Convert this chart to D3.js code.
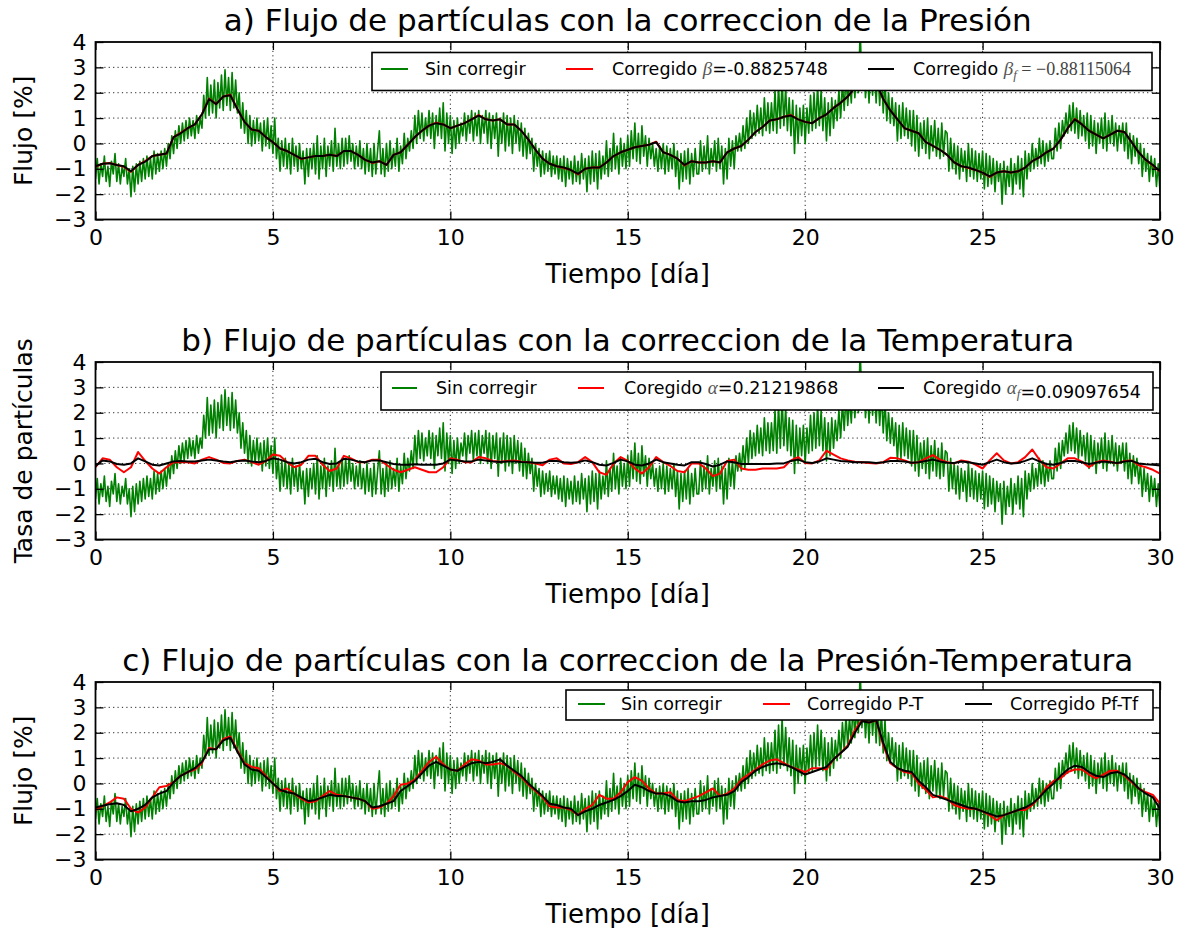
<!DOCTYPE html>
<html>
<head>
<meta charset="utf-8">
<script src="https://cdn.jsdelivr.net/npm/d3@7"></script>
<style>
  body { margin: 0; background: #fff; }
  svg text { font-family: "DejaVu Sans", sans-serif; fill: #000; }
</style>
</head>
<body>
<svg id="chart" width="1187" height="928"></svg>
<script>
// Uncorrected particle flux, sampled every 0.05 day (0 .. 30), one row per day
const sinCorregir = [
  -1.4, -0.6, -1.6, -0.8, -1.3, -0.5, -1.5, -0.9, -1.7, -0.7, -1.2, -0.4, -1.5, -0.8, -1.6, -0.9, -1.3, -0.6, -1.6, -1.0,
  -2.1, -0.9, -1.9, -0.8, -1.6, -0.7, -1.5, -0.6, -1.4, -0.5, -1.3, -0.6, -1.4, -0.3, -1.2, -0.4, -1.1, -0.3, -1.0, -0.2,
  -0.9, 0.0, -0.6, 0.3, -0.4, 0.5, -0.2, 0.7, 0.0, 0.8, 0.1, 0.9, 0.2, 1.0, 0.3, 0.9, 0.2, 1.1, 0.4, 1.0,
  0.6, 1.9, 1.0, 2.6, 1.1, 2.3, 1.2, 2.5, 1.0, 2.4, 1.4, 2.7, 1.3, 2.9, 1.5, 2.6, 1.3, 2.8, 1.4, 2.5,
  1.2, 2.0, 0.6, 1.6, 0.4, 1.3, 0.0, 1.1, -0.1, 0.9, 0.0, 1.0, 0.1, 0.8, -0.3, 0.9, -0.1, 1.0, -0.2, 0.7,
  -0.4, 1.0, -0.6, 0.2, -1.1, 0.1, -0.9, 0.2, -1.0, 0.0, -1.2, 0.2, -0.9, -0.1, -1.1, 0.0, -1.0, -0.3, -1.6, -0.2,
  -1.3, -0.2, -1.0, 0.0, -1.2, 0.3, -1.4, -0.1, -1.0, 0.2, -1.3, -0.1, -0.9, 0.1, -1.1, 0.6, -0.9, 0.0, -1.0, 0.2,
  -0.9, 0.2, -0.8, 0.3, -0.7, 0.0, -1.0, -0.1, -0.9, 0.1, -1.0, -0.2, -1.2, 0.0, -1.1, -0.2, -1.3, 0.0, -1.2, -0.3,
  0.5, -1.2, -0.2, -1.3, 0.0, -1.1, 0.1, -1.0, -0.2, -0.9, 0.2, -1.1, -0.1, -0.8, 0.4, -0.6, 0.2, -0.3, 0.5, -0.2,
  1.1, 0.0, 1.3, 0.2, 1.2, 0.1, 1.0, 0.3, 1.3, 0.2, 1.2, -0.2, 1.1, 0.3, 1.4, 0.2, 1.6, -0.3, 1.2, 0.0,
  1.1, -0.4, 0.9, -0.2, 1.0, 0.0, 0.8, 0.3, 1.2, 0.1, 1.1, 0.4, 1.3, 0.1, 1.2, 0.3, 1.3, 0.0, 1.1, 0.4,
  1.3, 0.0, 1.2, -0.2, 1.1, 0.2, 1.2, -0.5, 1.0, 0.0, 1.2, -0.3, 1.1, -0.1, 1.0, -0.4, 1.1, 0.0, 0.9, -0.3,
  0.8, -0.5, 0.6, -0.6, 0.4, -0.4, 0.2, -1.1, 0.0, -0.9, -0.2, -1.3, -0.3, -1.2, -0.4, -1.1, -0.3, -1.3, -0.5, -1.2,
  -0.5, -1.4, -0.6, -1.5, -0.5, -1.7, -0.6, -1.4, -0.7, -1.6, -0.5, -1.5, -0.7, -1.6, -0.4, -1.4, -0.6, -1.9, -0.5, -1.6,
  -0.3, -1.5, -0.4, -1.8, -0.3, -1.4, -0.5, -1.2, 0.1, -1.3, -0.2, -1.1, 0.4, -1.0, -0.1, -1.2, 0.2, -0.9, 0.0, -1.0,
  0.3, -0.9, 0.5, -0.6, 0.8, -0.7, 0.4, -0.8, 0.7, -0.5, 0.3, -0.9, 0.2, -0.6, 0.0, -0.9, -0.2, -1.1, -0.1, -1.0,
  0.0, -1.2, -0.1, -1.1, -0.2, -1.0, 0.0, -1.3, -0.3, -1.8, -0.4, -1.5, -0.3, -1.4, -0.2, -1.6, -0.4, -1.3, -0.2, -1.2,
  -1.2, 0.1, -1.1, -0.1, -1.0, 0.3, -1.2, -0.2, -0.9, 0.1, -1.1, 0.2, -1.0, -0.1, -1.6, -0.2, -1.4, 0.2, -0.9, 0.1,
  -1.0, 0.3, -0.3, 0.4, -0.3, 0.7, -0.2, 1.0, 0.0, 1.3, 0.2, 1.2, 0.3, 1.5, 0.4, 1.4, 0.3, 1.8, 0.5, 1.6,
  0.4, 1.6, 0.5, 2.1, 0.4, 2.3, 0.6, 2.6, 0.7, 2.2, 0.5, 1.8, 0.3, 1.7, -0.4, 1.5, 0.0, 1.4, 0.3, 1.5,
  0.0, 1.4, 0.4, 1.9, 0.5, 2.0, 0.6, 2.3, 0.7, 2.1, 0.5, 1.8, 0.1, 1.6, 0.3, 1.8, 0.6, 1.7, 0.9, 2.1,
  1.0, 2.4, 1.3, 2.7, 1.5, 2.6, 1.6, 3.2, 1.8, 3.0, 2.0, 4.5, 2.2, 3.3, 1.8, 3.0, 1.6, 3.3, 1.9, 3.1,
  1.6, 3.0, 1.5, 2.8, 1.2, 2.5, 0.9, 2.0, 0.8, 1.8, 0.7, 1.6, 0.1, 1.5, 0.2, 1.6, 0.3, 1.4, 0.2, 1.3,
  -0.1, 1.3, -0.3, 1.1, -0.5, 0.8, -0.2, 0.9, -0.4, 1.0, -0.6, 0.7, -0.3, 0.9, -0.5, 0.6, -0.6, 0.8, -0.5, 0.5,
  0.4, -1.1, 0.2, -1.0, 0.0, -1.2, -0.1, -1.4, -0.2, -1.1, -0.3, -1.5, 0.0, -1.3, -0.2, -1.4, -0.3, -1.5, -0.4, -1.4,
  -0.3, -1.8, -0.4, -1.7, -0.5, -1.6, -0.6, -1.9, -0.7, -1.5, -0.8, -2.4, -0.7, -2.0, -0.9, -1.7, -0.6, -2.0, -0.8, -1.6,
  -0.5, -1.8, -0.6, -2.1, -0.3, -1.4, -0.4, -1.1, 0.0, -1.0, -0.2, -0.9, 0.2, -0.8, 0.1, -0.9, 0.0, -0.7, 0.1, -0.6,
  -0.6, 0.6, -0.3, 0.8, -0.2, 0.9, 0.3, 1.2, 0.4, 1.5, 0.5, 1.6, 0.4, 1.4, 0.2, 1.3, 0.3, 1.1, 0.1, 1.2,
  -0.2, 1.1, -0.1, 0.9, -0.4, 0.8, 0.0, 1.0, -0.2, 1.2, -0.3, 0.9, 0.0, 1.1, -0.1, 0.8, -0.3, 0.7, 0.0, 0.8,
  -0.3, 0.8, -0.6, 0.4, -0.8, 0.3, -0.5, 0.2, -0.8, 0.0, -1.3, -0.2, -1.1, -0.4, -1.5, -0.5, -1.3, -0.6, -1.7, -0.8,
  -1.9
];

// Corrected series, sampled every 0.2 day (0 .. 30)
const corregidoBetaF = [
  -0.9, -0.8, -0.78, -0.85, -0.9, -1.1, -0.85, -0.72, -0.5, -0.45,
  -0.4, 0.25, 0.4, 0.6, 0.75, 1.15, 1.75, 1.55, 1.85, 1.9,
  1.35, 0.85, 0.55, 0.5, 0.25, 0.05, -0.2, -0.3, -0.45, -0.6,
  -0.55, -0.5, -0.5, -0.45, -0.5, -0.3, -0.3, -0.45, -0.65, -0.75,
  -0.7, -0.85, -0.45, -0.35, -0.05, 0.25, 0.5, 0.7, 0.8, 0.75,
  0.6, 0.7, 0.8, 0.95, 1.1, 0.95, 0.9, 0.95, 0.75, 0.75,
  0.5, 0.15, -0.25, -0.6, -0.8, -0.9, -0.95, -1.05, -1.2, -1.0,
  -0.95, -0.95, -0.75, -0.5, -0.35, -0.25, -0.15, -0.1, -0.05, 0.05,
  -0.35, -0.45, -0.6, -0.85, -0.7, -0.75, -0.75, -0.7, -0.75, -0.35,
  -0.2, -0.1, 0.15, 0.45, 0.65, 0.9, 0.95, 1.05, 1.1, 0.95,
  0.85, 0.8, 1.0, 1.15, 1.4, 1.6, 1.85, 2.2, 2.45, 2.55,
  2.4, 1.75, 1.3, 0.95, 0.6, 0.5, 0.4, 0.05, -0.1, -0.25,
  -0.45, -0.75, -0.9, -0.95, -1.05, -1.15, -1.3, -1.15, -1.1, -1.15,
  -1.1, -0.95, -0.7, -0.55, -0.35, -0.2, 0.15, 0.6, 0.95, 0.75,
  0.5, 0.35, 0.2, 0.35, 0.5, 0.45, 0.05, -0.35, -0.65, -0.85,
  -1.1
];
const corregidoBeta = [
  -0.92, -0.8, -0.77, -0.85, -0.92, -1.12, -0.85, -0.7, -0.5, -0.45,
  -0.4, 0.25, 0.42, 0.6, 0.75, 1.15, 1.77, 1.55, 1.85, 1.92,
  1.35, 0.85, 0.55, 0.5, 0.25, 0.05, -0.2, -0.3, -0.45, -0.62,
  -0.55, -0.5, -0.5, -0.45, -0.5, -0.3, -0.3, -0.45, -0.65, -0.77,
  -0.7, -0.85, -0.45, -0.35, -0.05, 0.25, 0.5, 0.7, 0.82, 0.75,
  0.6, 0.7, 0.8, 0.95, 1.12, 0.95, 0.9, 0.95, 0.75, 0.75,
  0.5, 0.15, -0.25, -0.6, -0.8, -0.9, -0.97, -1.05, -1.22, -1.0,
  -0.95, -0.95, -0.75, -0.5, -0.35, -0.25, -0.15, -0.1, -0.05, 0.07,
  -0.35, -0.45, -0.6, -0.87, -0.7, -0.75, -0.75, -0.7, -0.75, -0.35,
  -0.2, -0.1, 0.15, 0.45, 0.65, 0.9, 0.95, 1.05, 1.12, 0.95,
  0.85, 0.8, 1.0, 1.15, 1.4, 1.6, 1.85, 2.2, 2.47, 2.57,
  2.4, 1.75, 1.3, 0.95, 0.6, 0.5, 0.4, 0.05, -0.1, -0.25,
  -0.45, -0.75, -0.9, -0.97, -1.05, -1.15, -1.32, -1.15, -1.1, -1.15,
  -1.1, -0.95, -0.7, -0.55, -0.35, -0.2, 0.15, 0.6, 0.97, 0.75,
  0.5, 0.35, 0.2, 0.35, 0.5, 0.45, 0.05, -0.35, -0.65, -0.87,
  -1.12
];
const coregidoAlpha = [
  -0.15, 0.2, 0.15, -0.15, -0.35, -0.15, 0.45, 0.1, -0.2, -0.4,
  -0.15, 0.05, 0.05, 0.05, 0.0, 0.15, 0.25, 0.15, 0.02, 0.0,
  0.1, 0.15, 0.05, -0.05, 0.1, 0.35, 0.3, 0.05, -0.15, -0.05,
  0.3, 0.3, -0.05, -0.3, -0.2, 0.3, 0.2, 0.05, 0.05, 0.15,
  0.15, -0.05, -0.25, -0.35, -0.25, -0.15, -0.25, -0.35, -0.35, -0.15,
  0.2, 0.15, 0.05, 0.05, 0.25, 0.2, 0.1, 0.07, 0.1, 0.12,
  0.07, 0.05, 0.0, -0.07, 0.15, 0.2, 0.0, -0.02, 0.05, 0.25,
  0.05, -0.35, -0.45, 0.0, 0.25, 0.1, -0.2, -0.4, -0.15, 0.25,
  0.05, -0.1, -0.3, -0.35, 0.0, 0.0, -0.2, -0.5, -0.4, 0.1,
  0.15, -0.2, -0.25, -0.25, -0.2, -0.2, -0.2, -0.15, 0.12, 0.25,
  0.02, 0.0, 0.12, 0.5, 0.35, 0.2, 0.12, 0.07, 0.05, 0.02,
  0.0, 0.05, 0.22, 0.2, 0.12, 0.02, 0.05, 0.2, 0.33, 0.15,
  0.05, 0.0, 0.12, 0.07, -0.05, -0.2, 0.12, 0.4, 0.12, 0.0,
  0.05, 0.25, 0.55, 0.15, -0.15, -0.2, 0.0, 0.2, 0.2, 0.07,
  -0.15, 0.05, 0.12, 0.07, 0.0, 0.1, 0.12, -0.07, -0.15, -0.25,
  -0.4
];
const coregidoAlphaF = [
  -0.1, 0.12, 0.08, -0.02, -0.05, 0.0, 0.2, 0.08, -0.05, -0.08,
  0.0, 0.08, 0.1, 0.08, 0.08, 0.12, 0.15, 0.12, 0.08, 0.05,
  0.1, 0.12, 0.08, 0.05, 0.1, 0.2, 0.15, 0.05, 0.0, 0.05,
  0.15, 0.18, 0.05, -0.02, 0.0, 0.18, 0.15, 0.08, 0.05, 0.12,
  0.12, 0.05, -0.02, -0.05, -0.05, -0.03, -0.05, -0.05, -0.05, 0.0,
  0.15, 0.12, 0.08, 0.08, 0.15, 0.12, 0.08, 0.06, 0.08, 0.08,
  0.06, 0.05, 0.03, 0.03, 0.1, 0.1, 0.05, 0.03, 0.05, 0.12,
  0.05, -0.05, -0.08, 0.02, 0.15, 0.08, -0.05, -0.08, 0.0, 0.15,
  0.05, 0.0, -0.05, -0.08, 0.05, 0.05, -0.02, -0.12, -0.05, 0.08,
  0.05, -0.02, -0.02, -0.02, -0.02, -0.02, 0.0, 0.0, 0.1, 0.15,
  0.05, 0.02, 0.08, 0.2, 0.15, 0.1, 0.08, 0.05, 0.05, 0.05,
  0.02, 0.05, 0.1, 0.1, 0.08, 0.03, 0.05, 0.1, 0.15, 0.08,
  0.03, 0.02, 0.08, 0.05, 0.0, -0.05, 0.05, 0.15, 0.05, 0.0,
  0.02, 0.1, 0.2, 0.08, -0.02, -0.05, 0.02, 0.1, 0.1, 0.05,
  -0.02, 0.03, 0.08, 0.05, 0.02, 0.08, 0.1, 0.0, -0.03, -0.05,
  -0.08
];
const corregidoPT = [
  -1.05, -0.9, -0.75, -0.55, -0.6, -1.0, -1.15, -0.95, -0.55, -0.15,
  -0.1, 0.05, 0.3, 0.45, 0.55, 0.8, 1.4, 1.35, 1.75, 1.85,
  1.3, 0.8, 0.65, 0.6, 0.3, 0.0, -0.3, -0.2, -0.4, -0.6,
  -0.75, -0.7, -0.5, -0.3, -0.45, -0.5, -0.55, -0.6, -0.7, -1.0,
  -0.95, -0.8, -0.5, -0.05, 0.0, 0.15, 0.5, 0.85, 1.05, 0.75,
  0.55, 0.5, 0.75, 0.95, 0.9, 0.75, 0.75, 0.8, 0.7, 0.45,
  0.25, -0.05, -0.3, -0.55, -0.9, -0.95, -0.95, -1.05, -1.25, -1.0,
  -0.85, -0.45, -0.6, -0.6, -0.35, 0.05, 0.25, 0.1, -0.2, -0.4,
  -0.4, -0.35, -0.65, -0.7, -0.6, -0.5, -0.35, -0.2, -0.5, -0.4,
  -0.2, 0.15, 0.35, 0.55, 0.75, 0.9, 0.95, 0.8, 0.65, 0.55,
  0.45, 0.6, 0.6, 0.55, 0.95, 1.2, 1.5, 2.1, 2.5, 2.4,
  2.5, 1.5, 0.8, 0.6, 0.45, 0.4, 0.0, -0.25, -0.55, -0.5,
  -0.6, -0.85, -0.95, -1.0, -1.0, -1.1, -1.25, -1.45, -1.25, -1.15,
  -1.05, -1.05, -0.85, -0.55, -0.15, 0.1, 0.2, 0.45, 0.55, 0.55,
  0.35, 0.2, 0.35, 0.5, 0.5, 0.3, 0.05, -0.2, -0.35, -0.45,
  -0.8
];
const corregidoPfTf = [
  -0.95, -0.88, -0.82, -0.78, -0.85, -1.1, -1.0, -0.85, -0.55, -0.4,
  -0.3, 0.05, 0.3, 0.45, 0.6, 0.85, 1.35, 1.35, 1.7, 1.8,
  1.25, 0.75, 0.55, 0.5, 0.25, 0.0, -0.25, -0.35, -0.4, -0.55,
  -0.7, -0.65, -0.55, -0.45, -0.5, -0.5, -0.55, -0.6, -0.7, -0.95,
  -0.9, -0.8, -0.7, -0.3, -0.1, 0.1, 0.4, 0.7, 0.85, 0.7,
  0.55, 0.5, 0.65, 0.8, 0.85, 0.8, 0.85, 0.95, 0.7, 0.5,
  0.3, 0.0, -0.25, -0.5, -0.8, -0.85, -0.95, -1.0, -1.25, -1.1,
  -1.0, -0.85, -0.75, -0.65, -0.5, -0.3, -0.05, -0.15, -0.3, -0.4,
  -0.4, -0.5, -0.7, -0.75, -0.7, -0.7, -0.65, -0.55, -0.5, -0.45,
  -0.3, 0.05, 0.25, 0.5, 0.65, 0.75, 0.8, 0.75, 0.65, 0.5,
  0.35, 0.45, 0.55, 0.65, 0.95, 1.2, 1.45, 2.0, 2.45, 2.4,
  2.5, 1.6, 0.85, 0.6, 0.5, 0.45, 0.1, -0.15, -0.45, -0.55,
  -0.65, -0.75, -0.85, -0.95, -1.0, -1.1, -1.2, -1.3, -1.25, -1.15,
  -1.05, -0.95, -0.8, -0.55, -0.25, 0.0, 0.3, 0.55, 0.7, 0.65,
  0.45, 0.3, 0.25, 0.4, 0.45, 0.35, 0.1, -0.2, -0.4, -0.55,
  -1.0
];

const xTicks = [0, 5, 10, 15, 20, 25, 30];
const yTicks = [-3, -2, -1, 0, 1, 2, 3, 4];

const titles = [
  "a) Flujo de partículas con la correccion de la Presión",
  "b) Flujo de partículas con la correccion de la Temperatura",
  "c) Flujo de partículas con la correccion de la Presión-Temperatura"
];
const yLabels = ["Flujo [%]", "Tasa de partículas", "Flujo [%]"];
const xLabel = "Tiempo [día]";

const GREEN = "#008000", RED = "#ff0000", BLACK = "#000000";

// time axes of the two sampling rates
const tFine = sinCorregir.map((_, i) => i / 20);
const tCoarse = corregidoBetaF.map((_, i) => i / 5);

const svg = d3.select("#chart");
const plotLeft = 95.5, plotRight = 1160, plotH = 177.5;
const panelTops = [42, 362, 682];
const x = d3.scaleLinear().domain([0, 30]).range([plotLeft, plotRight]);
const fmt = d => (d < 0 ? "\u2212" + (-d) : String(d));

// legend entries: each label is a list of [text, style] runs
const legends = [
  {
    box: [372, 52.5, 1152, 90.5], lineY: 69, baseY: 75,
    items: [
      { color: GREEN, lx: [381, 408], tx: 425, runs: [["Sin corregir", "sans"]] },
      { color: RED, lx: [566, 593], tx: 612, runs: [["Corregido ", "sans"], ["β", "mathit"], ["=-0.8825748", "sans"]] },
      { color: BLACK, lx: [868, 894], tx: 913, runs: [["Corregido ", "sans"], ["β", "mathit"], ["f", "sub"], [" = −0.88115064", "math"]] }
    ]
  },
  {
    box: [381, 372, 1153, 410], lineY: 388, baseY: 394,
    items: [
      { color: GREEN, lx: [392, 417], tx: 436, runs: [["Sin corregir", "sans"]] },
      { color: RED, lx: [578, 604], tx: 624, runs: [["Coregido ", "sans"], ["α", "mathit"], ["=0.21219868", "sans"]] },
      { color: BLACK, lx: [878, 904], tx: 923, runs: [["Coregido ", "sans"], ["α", "mathit"], ["f", "sub"], ["=0.09097654", "sans"]] }
    ]
  },
  {
    box: [566, 690, 1153, 720], lineY: 704, baseY: 710,
    items: [
      { color: GREEN, lx: [578, 605], tx: 621, runs: [["Sin corregir", "sans"]] },
      { color: RED, lx: [763, 790], tx: 807, runs: [["Corregido P-T", "sans"]] },
      { color: BLACK, lx: [965, 992], tx: 1010, runs: [["Corregido Pf-Tf", "sans"]] }
    ]
  }
];

const panels = [
  { series: [
      { t: tFine, v: sinCorregir, color: GREEN, w: 1.6 },
      { t: tCoarse, v: corregidoBeta, color: RED, w: 2 },
      { t: tCoarse, v: corregidoBetaF, color: BLACK, w: 2 } ] },
  { series: [
      { t: tFine, v: sinCorregir, color: GREEN, w: 1.6 },
      { t: tCoarse, v: coregidoAlpha, color: RED, w: 2 },
      { t: tCoarse, v: coregidoAlphaF, color: BLACK, w: 2 } ] },
  { series: [
      { t: tFine, v: sinCorregir, color: GREEN, w: 1.6 },
      { t: tCoarse, v: corregidoPT, color: RED, w: 2 },
      { t: tCoarse, v: corregidoPfTf, color: BLACK, w: 2 } ] }
];

panels.forEach((p, k) => {
  const top = panelTops[k];
  const bottom = top + plotH;
  const y = d3.scaleLinear().domain([-3, 4]).range([bottom, top]);
  const g = svg.append("g");

  g.append("clipPath").attr("id", "clip" + k)
    .append("rect").attr("x", plotLeft).attr("y", top)
    .attr("width", plotRight - plotLeft).attr("height", plotH);

  // dotted grid
  const grid = g.append("g").attr("stroke", "#000").attr("stroke-width", 1)
    .attr("stroke-dasharray", "1.2,3.2").attr("opacity", 0.85);
  grid.selectAll("line.v").data(xTicks.slice(1, -1)).join("line")
    .attr("x1", d => x(d)).attr("x2", d => x(d)).attr("y1", top).attr("y2", bottom);
  grid.selectAll("line.h").data(yTicks.slice(1, -1)).join("line")
    .attr("x1", plotLeft).attr("x2", plotRight).attr("y1", d => y(d)).attr("y2", d => y(d));

  // data lines
  const lines = g.append("g").attr("clip-path", `url(#clip${k})`);
  p.series.forEach(s => {
    const line = d3.line().x((d, i) => x(s.t[i])).y(d => y(d));
    lines.append("path").datum(s.v).attr("d", line)
      .attr("fill", "none").attr("stroke", s.color).attr("stroke-width", s.w)
      .attr("stroke-linejoin", "round");
  });

  // axes with inward ticks on all four sides
  const styleAxis = sel => {
    sel.select(".domain").remove();
    sel.selectAll(".tick line").attr("stroke", "#000").attr("stroke-width", 1.3);
    sel.selectAll(".tick text").style("font-family", '"DejaVu Sans", sans-serif')
      .style("font-size", "22px").attr("fill", "#000");
  };
  g.append("g").attr("transform", `translate(0,${bottom})`)
    .call(d3.axisBottom(x).tickValues(xTicks).tickSize(-8).tickPadding(10).tickFormat(fmt))
    .call(styleAxis);
  g.append("g").attr("transform", `translate(0,${top})`)
    .call(d3.axisTop(x).tickValues(xTicks).tickSize(-8).tickFormat(""))
    .call(styleAxis);
  g.append("g").attr("transform", `translate(${plotLeft},0)`)
    .call(d3.axisLeft(y).tickValues(yTicks).tickSize(-8).tickPadding(9).tickFormat(fmt))
    .call(styleAxis);
  g.append("g").attr("transform", `translate(${plotRight},0)`)
    .call(d3.axisRight(y).tickValues(yTicks).tickSize(-8).tickFormat(""))
    .call(styleAxis);

  // frame
  g.append("rect").attr("x", plotLeft).attr("y", top)
    .attr("width", plotRight - plotLeft).attr("height", plotH)
    .attr("fill", "none").attr("stroke", "#000").attr("stroke-width", 1.8);

  // title and axis labels
  g.append("text").attr("x", (plotLeft + plotRight) / 2).attr("y", top - 11)
    .attr("text-anchor", "middle").style("font-size", "31px").text(titles[k]);
  g.append("text").attr("x", (plotLeft + plotRight) / 2).attr("y", bottom + 63)
    .attr("text-anchor", "middle").style("font-size", "26px").text(xLabel);
  g.append("text")
    .attr("transform", `translate(32,${(top + bottom) / 2}) rotate(-90)`)
    .attr("text-anchor", "middle").style("font-size", "25px").text(yLabels[k]);

  // legend drawn over the data
  const L = legends[k];
  const lg = g.append("g");
  lg.append("rect").attr("x", L.box[0]).attr("y", L.box[1])
    .attr("width", L.box[2] - L.box[0]).attr("height", L.box[3] - L.box[1])
    .attr("fill", "#fff").attr("stroke", "#000").attr("stroke-width", 1.6);
  L.items.forEach(it => {
    lg.append("line").attr("x1", it.lx[0]).attr("x2", it.lx[1])
      .attr("y1", L.lineY).attr("y2", L.lineY)
      .attr("stroke", it.color).attr("stroke-width", 2);
    const txt = lg.append("text").attr("x", it.tx).attr("y", L.baseY).style("font-size", "17.5px");
    it.runs.forEach(([s, kind]) => {
      const ts = txt.append("tspan").text(s);
      if (kind === "mathit") {
        ts.style("font-family", '"Liberation Serif", serif').style("font-style", "italic")
          .style("font-size", "19px").attr("fill", "#555");
      } else if (kind === "sub") {
        ts.style("font-family", '"Liberation Serif", serif').style("font-style", "italic")
          .style("font-size", "13px").attr("dy", 4).attr("fill", "#555");
      } else if (kind === "math") {
        ts.style("font-family", '"Liberation Serif", serif').style("font-size", "18px")
          .attr("dy", -4).attr("fill", "#444");
      }
    });
  });
});
</script>
</body>
</html>
